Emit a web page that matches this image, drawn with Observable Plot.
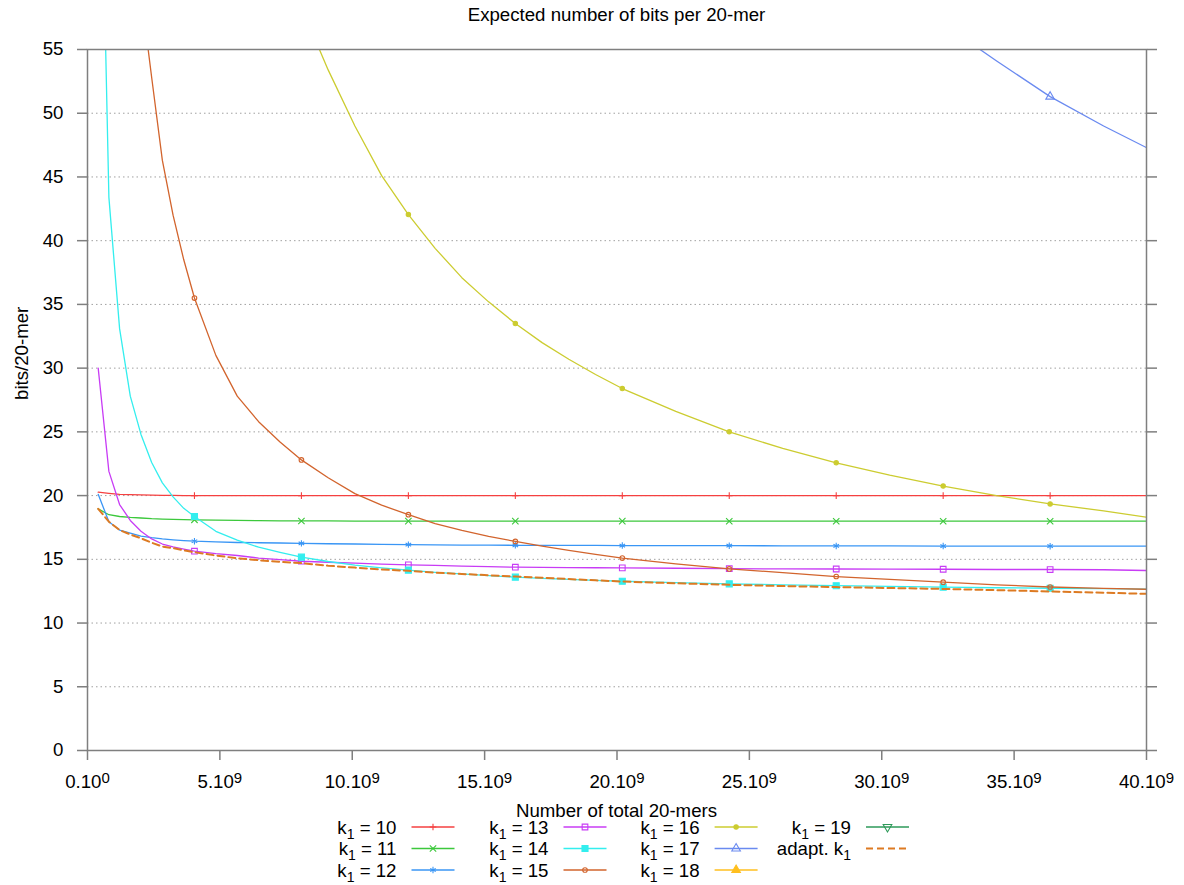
<!DOCTYPE html>
<html><head><meta charset="utf-8">
<script src="https://cdn.jsdelivr.net/npm/d3@7"></script>
<script src="https://cdn.jsdelivr.net/npm/@observablehq/plot@0.6"></script>
<style>
body{margin:0;background:#fff;font-family:"Liberation Sans",Arial,sans-serif;}
#title{height:40px;box-sizing:border-box;padding-top:4px;margin-left:87px;width:1059px;text-align:center;font-size:18.67px;color:#000;white-space:nowrap}
#chart svg,#legend svg{display:block}
</style></head><body>
<div id="title">Expected number of bits per 20-mer</div>
<div id="chart"></div>
<div id="legend"></div>
<script>
// x in units of 1e9 total 20-mers
const X = [0.404, 0.808, 1.212, 1.616, 2.02, 2.424, 2.828, 3.232, 3.636, 4.04,
  4.848, 5.656, 6.464, 7.272,
  8.08, 9.09, 10.1, 11.11, 12.12, 13.13, 14.14, 15.15, 16.16, 17.17, 18.18, 19.19, 20.2,
  22.22, 24.24, 26.26, 28.28, 30.3, 32.32, 34.34, 36.36, 38.38, 40];
const markerX = [4.04, 8.08, 12.12, 16.16, 20.2, 24.24, 28.28, 32.32, 36.36];

const k10 = [20.27, 20.18, 20.10, 20.07, 20.05, 20.03, 20.02, 20.01, 20.00, 20.00,
  20, 20, 20, 20,
  20, 20, 20, 20, 20, 20, 20, 20, 20, 20, 20, 20, 20,
  20, 20, 20, 20, 20, 20, 20, 20, 20, 20];
const k11 = [18.96, 18.50, 18.36, 18.29, 18.24, 18.19, 18.16, 18.13, 18.11, 18.10,
  18.07, 18.05, 18.03, 18.02,
  18.01, 18.01, 18.00, 18.00, 18.00, 18.00, 18.00, 18.00, 18.00, 18.00, 18.00, 18.00, 18.00,
  18.00, 17.99, 17.99, 17.99, 17.99, 17.99, 17.99, 17.99, 17.99, 17.99];
const k12 = [20.10, 17.95, 17.30, 17.05, 16.82, 16.70, 16.60, 16.53, 16.47, 16.42,
  16.37, 16.32, 16.30, 16.28,
  16.25, 16.22, 16.20, 16.17, 16.15, 16.13, 16.12, 16.11, 16.10, 16.10, 16.09, 16.09, 16.08,
  16.07, 16.07, 16.06, 16.05, 16.05, 16.04, 16.04, 16.03, 16.03, 16.03];
const k13 = [30.0, 21.9, 19.3, 18.05, 17.2, 16.6, 16.2, 15.97, 15.8, 15.64,
  15.45, 15.30, 15.10, 14.97,
  14.85, 14.77, 14.70, 14.63, 14.57, 14.52, 14.47, 14.42, 14.38, 14.36, 14.35, 14.34, 14.33,
  14.30, 14.27, 14.25, 14.24, 14.23, 14.22, 14.20, 14.20, 14.18, 14.12];
const k14 = [82, 43.4, 33.1, 27.8, 24.8, 22.6, 21.0, 19.9, 19.0, 18.36,
  17.2, 16.5, 15.95, 15.55,
  15.17, 14.83, 14.55, 14.33, 14.15, 13.98, 13.85, 13.72, 13.60, 13.50, 13.42, 13.35, 13.28,
  13.17, 13.07, 13.00, 12.93, 12.87, 12.82, 12.77, 12.73, 12.70, 12.66];
const k15 = [null, null, null, null, 59.5, 52.8, 46.3, 42.0, 38.5, 35.5,
  31.0, 27.8, 25.8, 24.2,
  22.8, 21.4, 20.15, 19.25, 18.5, 17.8, 17.27, 16.8, 16.4, 16.03, 15.7, 15.38, 15.1,
  14.65, 14.25, 13.95, 13.65, 13.42, 13.21, 13.0, 12.83, 12.72, 12.65];
const k16 = [null, null, null, null, null, null, null, null, null, null,
  null, null, null, null,
  58.3, 53.4, 49.0, 45.1, 42.05, 39.4, 37.1, 35.2, 33.5, 32.0, 30.7, 29.5, 28.4,
  26.6, 25.0, 23.7, 22.57, 21.6, 20.75, 20.0, 19.35, 18.8, 18.3];
const k17 = [null, null, null, null, null, null, null, null, null, null,
  null, null, null, null,
  null, null, null, null, null, null, null, null, null, null, null, null, null,
  null, null, null, null, null, 57.0, 54.1, 51.3, 49.0, 47.3];
const adapt = [18.96, 17.95, 17.30, 16.95, 16.65, 16.30, 16.00, 15.88, 15.70, 15.56,
  15.30, 15.08, 14.93, 14.80,
  14.70, 14.50, 14.35, 14.20, 14.10, 13.95, 13.85, 13.75, 13.65, 13.55, 13.45, 13.35, 13.26,
  13.12, 13.00, 12.90, 12.82, 12.75, 12.68, 12.58, 12.48, 12.38, 12.29];

const kLabels = ["10", "11", "12", "13", "14", "15", "16", "17", "18", "19"];
const yTicks = [0, 5, 10, 15, 20, 25, 30, 35, 40, 45, 50, 55];
const yGrid = [5, 10, 15, 20, 25, 30, 35, 40, 45, 50];
const xTicks = [0, 5, 10, 15, 20, 25, 30, 35, 40];
const xTickBase = ["0.10", "5.10", "10.10", "15.10", "20.10", "25.10", "30.10", "35.10", "40.10"];
const xTickExp = ["0", "9", "9", "9", "9", "9", "9", "9", "9"];
const titleText = "Expected number of bits per 20-mer";
const xLabel = "Number of total 20-mers";
const yLabel = "bits/20-mer";

// styles
const series = [
  {k: kLabels[0], values: k10, color: "#f54040", symbol: "plus", r: 2.3, filled: false},
  {k: kLabels[1], values: k11, color: "#3cc83c", symbol: "times", r: 3, filled: false},
  {k: kLabels[2], values: k12, color: "#3a96f5", symbol: "asterisk", r: 3, filled: false},
  {k: kLabels[3], values: k13, color: "#c83cf5", symbol: "square", r: 3.2, filled: false},
  {k: kLabels[4], values: k14, color: "#33eeee", symbol: "square", r: 3.4, filled: true},
  {k: kLabels[5], values: k15, color: "#d2642d", symbol: "circle", r: 2.3, filled: false},
  {k: kLabels[6], values: k16, color: "#cccc30", symbol: "circle", r: 2.2, filled: true},
  {k: kLabels[7], values: k17, color: "#6a8af0", symbol: "triangle", r: 3.2, filled: false},
  {k: kLabels[8], values: null, color: "#ffbf1f", symbol: "triangle", r: 3.2, filled: true},
  {k: kLabels[9], values: null, color: "#2e9a5a", symbol: "triangle", r: 3.2, filled: false, rotate: 180}
];
const adaptStyle = {color: "#dd7a22", dash: "7,4"};

const rows = vals => X.map((x, i) => ({x, y: vals[i]})).filter(d => d.y != null);

const marks = [
  Plot.gridY(yGrid, {stroke: "#a0a0a0", strokeOpacity: 1, strokeWidth: 1, strokeDasharray: "1.5,3"})
];
for (const s of series) {
  if (!s.values) continue;
  const data = rows(s.values);
  marks.push(Plot.line(data, {x: "x", y: "y", stroke: s.color, strokeWidth: 1.3, clip: true}));
  marks.push(Plot.dot(data.filter(d => markerX.includes(d.x)), {
    x: "x", y: "y", symbol: s.symbol, r: s.r, stroke: s.color, strokeWidth: 1.1,
    fill: s.filled ? s.color : "none", rotate: s.rotate || 0, clip: true
  }));
}
marks.push(Plot.line(rows(adapt), {x: "x", y: "y", stroke: adaptStyle.color, strokeWidth: 2, strokeDasharray: adaptStyle.dash, clip: true}));
marks.push(Plot.frame({stroke: "#7f7f7f", strokeWidth: 1.5}));
marks.push(Plot.axisY(yTicks, {anchor: "left", tickSize: 10, tickPadding: 14, stroke: "#7f7f7f", strokeWidth: 1.5, fill: "black", label: null}));
marks.push(Plot.axisY(yTicks, {anchor: "right", tickSize: 10, tickFormat: () => "", stroke: "#7f7f7f", strokeWidth: 1.5, label: null}));
marks.push(Plot.axisX(xTicks, {anchor: "bottom", tickSize: 10, tickPadding: 14, stroke: "#7f7f7f", strokeWidth: 1.5, fill: "black", label: null,
  tickFormat: d => xTickBase[xTicks.indexOf(d)]}));
marks.push(Plot.text([yLabel], {text: d => d, frameAnchor: "left", rotate: -90, dx: -65, fill: "black"}));

const chart = Plot.plot({
  width: 1184, height: 760,
  marginLeft: 87, marginRight: 38, marginTop: 9, marginBottom: 50,
  style: {fontFamily: '"Liberation Sans", Arial, sans-serif', fontSize: "18.67px", background: "white", color: "black", overflow: "visible"},
  x: {domain: [0, 40]},
  y: {domain: [0, 55]},
  marks
});
document.getElementById("chart").appendChild(chart);

// superscripts on x tick labels
d3.select(chart).selectAll('g[aria-label="x-axis tick label"] text').each(function () {
  const t = this.textContent;
  const i = xTickBase.indexOf(t);
  if (i >= 0) d3.select(this).append("tspan").attr("dy", -5).attr("font-size", "15px").text(xTickExp[i]);
});

// x label + legend
const L = d3.create("svg").attr("width", 1184).attr("height", 85)
  .style("font-family", '"Liberation Sans", Arial, sans-serif').style("font-size", "18.67px");
L.append("text").attr("x", 616.5).attr("y", 17).attr("text-anchor", "middle").attr("fill", "black").text(xLabel);

const textEnd = [396.5, 548.5, 699.6, 851];
const rowY = [33.5, 55, 76.5];
const symMap = {plus: d3.symbolPlus, times: d3.symbolTimes, asterisk: d3.symbolAsterisk, square: d3.symbolSquare,
  circle: d3.symbolCircle, triangle: d3.symbolTriangle};
const items = series.map(s => ({base: "k", rest: " = " + s.k, s}));
items.push({base: "adapt. k", rest: "", s: null});
items.forEach((it, i) => {
  const col = i < 9 ? Math.floor(i / 3) : 3;
  const row = i < 9 ? i % 3 : i - 9;
  const xe = textEnd[col], y = rowY[row];
  const t = L.append("text").attr("x", xe).attr("y", y).attr("text-anchor", "end").attr("fill", "black");
  t.append("tspan").text(it.base);
  t.append("tspan").attr("dy", 5).attr("font-size", "14px").text("1");
  if (it.rest) t.append("tspan").attr("dy", -5).text(it.rest);
  const ly = y - 6.5;
  if (it.s) {
    const s = it.s;
    L.append("line").attr("x1", xe + 15).attr("x2", xe + 58).attr("y1", ly).attr("y2", ly)
      .attr("stroke", s.color).attr("stroke-width", 1.3);
    L.append("path").attr("d", d3.symbol(symMap[s.symbol], s.r * s.r * Math.PI)())
      .attr("transform", `translate(${xe + 36.5},${ly}) rotate(${s.rotate || 0})`)
      .attr("fill", s.filled ? s.color : "none").attr("stroke", s.color).attr("stroke-width", 1.1);
  } else {
    L.append("line").attr("x1", xe + 15).attr("x2", xe + 58).attr("y1", ly).attr("y2", ly)
      .attr("stroke", adaptStyle.color).attr("stroke-width", 2).attr("stroke-dasharray", adaptStyle.dash);
  }
});
document.getElementById("legend").appendChild(L.node());
</script>
</body></html>
